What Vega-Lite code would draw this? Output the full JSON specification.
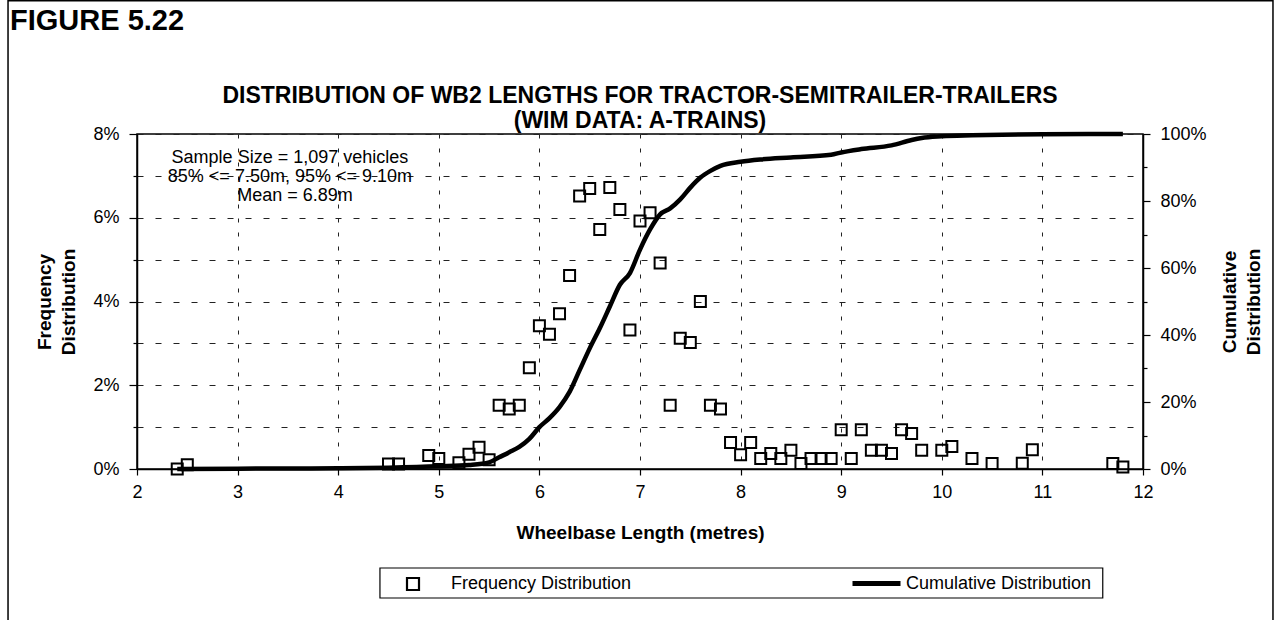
{
  "$schema": "https://vega.github.io/schema/vega-lite/v6.json",
  "autosize": {"type": "none"},
  "width": 1006,
  "height": 335,
  "padding": {"left": 137, "top": 134, "right": 132, "bottom": 151},
  "background": "white",
  "datasets": {
    "freq": [
      {"x": 2.4, "freq": 0.0}, {"x": 2.5, "freq": 0.1}, {"x": 4.5, "freq": 0.12}, {"x": 4.6, "freq": 0.12},
      {"x": 4.9, "freq": 0.32}, {"x": 5.0, "freq": 0.25}, {"x": 5.2, "freq": 0.15}, {"x": 5.3, "freq": 0.35},
      {"x": 5.4, "freq": 0.52}, {"x": 5.5, "freq": 0.22}, {"x": 5.6, "freq": 1.52}, {"x": 5.7, "freq": 1.43},
      {"x": 5.8, "freq": 1.52}, {"x": 5.9, "freq": 2.42}, {"x": 6.0, "freq": 3.42}, {"x": 6.1, "freq": 3.22},
      {"x": 6.2, "freq": 3.71}, {"x": 6.3, "freq": 4.62}, {"x": 6.4, "freq": 6.52}, {"x": 6.5, "freq": 6.7},
      {"x": 6.6, "freq": 5.72}, {"x": 6.7, "freq": 6.72}, {"x": 6.8, "freq": 6.2}, {"x": 6.9, "freq": 3.32},
      {"x": 7.0, "freq": 5.92}, {"x": 7.1, "freq": 6.12}, {"x": 7.2, "freq": 4.92}, {"x": 7.3, "freq": 1.52},
      {"x": 7.4, "freq": 3.12}, {"x": 7.5, "freq": 3.02}, {"x": 7.6, "freq": 4.0}, {"x": 7.7, "freq": 1.52},
      {"x": 7.8, "freq": 1.43}, {"x": 7.9, "freq": 0.63}, {"x": 8.0, "freq": 0.34}, {"x": 8.1, "freq": 0.63},
      {"x": 8.2, "freq": 0.25}, {"x": 8.3, "freq": 0.37}, {"x": 8.4, "freq": 0.25}, {"x": 8.5, "freq": 0.45},
      {"x": 8.6, "freq": 0.13}, {"x": 8.7, "freq": 0.25}, {"x": 8.8, "freq": 0.25}, {"x": 8.9, "freq": 0.25},
      {"x": 9.0, "freq": 0.94}, {"x": 9.1, "freq": 0.25}, {"x": 9.2, "freq": 0.94}, {"x": 9.3, "freq": 0.45},
      {"x": 9.4, "freq": 0.45}, {"x": 9.5, "freq": 0.37}, {"x": 9.6, "freq": 0.94}, {"x": 9.7, "freq": 0.85},
      {"x": 9.8, "freq": 0.45}, {"x": 10.0, "freq": 0.45}, {"x": 10.1, "freq": 0.54}, {"x": 10.3, "freq": 0.25},
      {"x": 10.5, "freq": 0.13}, {"x": 10.8, "freq": 0.14}, {"x": 10.9, "freq": 0.46}, {"x": 11.7, "freq": 0.13},
      {"x": 11.8, "freq": 0.05}
    ],
    "cum": [
      {"x": 2.4, "cum": 0.0}, {"x": 3.0, "cum": 0.1}, {"x": 4.0, "cum": 0.2}, {"x": 4.5, "cum": 0.4},
      {"x": 5.0, "cum": 0.8}, {"x": 5.3, "cum": 1.2}, {"x": 5.5, "cum": 2.0}, {"x": 5.6, "cum": 3.5},
      {"x": 5.7, "cum": 5.0}, {"x": 5.8, "cum": 6.6}, {"x": 5.9, "cum": 9.0}, {"x": 6.0, "cum": 12.5},
      {"x": 6.1, "cum": 15.2}, {"x": 6.2, "cum": 18.5}, {"x": 6.3, "cum": 23.0}, {"x": 6.4, "cum": 29.5},
      {"x": 6.5, "cum": 36.0}, {"x": 6.6, "cum": 42.0}, {"x": 6.7, "cum": 48.5}, {"x": 6.8, "cum": 55.0},
      {"x": 6.9, "cum": 58.5}, {"x": 7.0, "cum": 65.5}, {"x": 7.1, "cum": 71.5}, {"x": 7.2, "cum": 76.0},
      {"x": 7.3, "cum": 77.8}, {"x": 7.4, "cum": 80.5}, {"x": 7.5, "cum": 84.0}, {"x": 7.6, "cum": 87.0},
      {"x": 7.7, "cum": 89.0}, {"x": 7.8, "cum": 90.5}, {"x": 8.0, "cum": 91.7}, {"x": 8.2, "cum": 92.4},
      {"x": 8.5, "cum": 93.0}, {"x": 8.9, "cum": 93.8}, {"x": 9.0, "cum": 94.5}, {"x": 9.2, "cum": 95.5},
      {"x": 9.5, "cum": 96.6}, {"x": 9.7, "cum": 98.2}, {"x": 9.8, "cum": 98.8}, {"x": 10.0, "cum": 99.3},
      {"x": 10.3, "cum": 99.6}, {"x": 10.6, "cum": 99.8}, {"x": 11.0, "cum": 99.9}, {"x": 11.8, "cum": 100.0}
    ]
  },
  "config": {
    "font": "Liberation Sans",
    "view": {"stroke": "black", "strokeWidth": 1.5},
    "axis": {
      "labelFont": "Liberation Sans", "labelFontSize": 18, "labelColor": "black",
      "titleFont": "Liberation Sans", "titleFontSize": 19, "titleFontWeight": "bold", "titleColor": "black",
      "domainColor": "black", "domainWidth": 1.5, "tickColor": "black", "tickWidth": 1.2
    },
    "legend": {
      "labelFont": "Liberation Sans", "labelFontSize": 18, "labelColor": "black", "labelLimit": 400
    }
  },
  "resolve": {"scale": {"y": "independent", "color": "independent"}},
  "layer": [
    {
      "layer": [
        {
          "data": {"name": "freq"},
          "mark": {"type": "point", "shape": "square", "filled": false, "size": 121, "strokeWidth": 2, "opacity": 1},
          "encoding": {
            "x": {
              "field": "x", "type": "quantitative",
              "scale": {"domain": [2, 12], "nice": false, "zero": false},
              "axis": {
                "values": [2, 3, 4, 5, 6, 7, 8, 9, 10, 11, 12], "format": "d", "labelFlush": false,
                "title": "Wheelbase Length (metres)", "titlePadding": 22,
                "tickSize": 6, "labelPadding": 8,
                "grid": true, "gridColor": "#222", "gridDash": [4, 10], "gridWidth": 1
              }
            },
            "y": {
              "field": "freq", "type": "quantitative",
              "scale": {"domain": [0, 8], "nice": false},
              "axis": {
                "orient": "left",
                "values": [0, 1, 2, 3, 4, 5, 6, 7, 8],
                "labelExpr": "datum.value % 2 == 0 ? datum.value + '%' : ''",
                "tickSize": {"condition": {"test": "datum.value % 2 != 0", "value": 4}, "value": 8},
                "labelPadding": 10,
                "title": ["Frequency", "Distribution"], "titleLineHeight": 24, "titlePadding": 14,
                "grid": true, "gridColor": "#222", "gridDash": [6, 12], "gridWidth": 1
              }
            },
            "color": {
              "datum": "Frequency Distribution",
              "scale": {"range": ["black"]},
              "legend": {
                "title": null, "orient": "none", "legendX": 263, "legendY": 437,
                "padding": 4, "symbolType": "square", "symbolSize": 144, "symbolStrokeWidth": 2.2,
                "symbolFillColor": "transparent", "symbolStrokeColor": "black", "labelOffset": 29
              }
            }
          }
        },
        {
          "data": {"values": [{}]},
          "mark": {"type": "text", "font": "Liberation Sans", "fontSize": 23, "fontWeight": "bold", "align": "center", "baseline": "middle", "color": "black"},
          "encoding": {
            "x": {"datum": 7.0, "type": "quantitative"},
            "y": {"datum": 8.91, "type": "quantitative"},
            "text": {"value": "DISTRIBUTION OF WB2 LENGTHS FOR TRACTOR-SEMITRAILER-TRAILERS"}
          }
        },
        {
          "data": {"values": [{}]},
          "mark": {"type": "text", "font": "Liberation Sans", "fontSize": 23, "fontWeight": "bold", "align": "center", "baseline": "middle", "color": "black"},
          "encoding": {
            "x": {"datum": 7.0, "type": "quantitative"},
            "y": {"datum": 8.32, "type": "quantitative"},
            "text": {"value": "(WIM DATA: A-TRAINS)"}
          }
        },
        {
          "data": {"values": [{}]},
          "mark": {"type": "text", "font": "Liberation Sans", "fontSize": 18, "align": "center", "baseline": "middle", "color": "black"},
          "encoding": {
            "x": {"datum": 3.52, "type": "quantitative"},
            "y": {"datum": 7.43, "type": "quantitative"},
            "text": {"value": "Sample Size = 1,097 vehicles"}
          }
        },
        {
          "data": {"values": [{}]},
          "mark": {"type": "text", "font": "Liberation Sans", "fontSize": 18, "align": "center", "baseline": "middle", "color": "black"},
          "encoding": {
            "x": {"datum": 3.52, "type": "quantitative"},
            "y": {"datum": 6.97, "type": "quantitative"},
            "text": {"value": "85% <= 7.50m, 95% <= 9.10m"}
          }
        },
        {
          "data": {"values": [{}]},
          "mark": {"type": "text", "font": "Liberation Sans", "fontSize": 18, "align": "center", "baseline": "middle", "color": "black"},
          "encoding": {
            "x": {"datum": 3.57, "type": "quantitative"},
            "y": {"datum": 6.52, "type": "quantitative"},
            "text": {"value": "Mean = 6.89m"}
          }
        },
        {
          "data": {"values": [{}]},
          "mark": {"type": "text", "font": "Liberation Sans", "fontSize": 29, "fontWeight": "bold", "align": "left", "baseline": "middle", "color": "black"},
          "encoding": {
            "x": {"datum": 0.738, "type": "quantitative"},
            "y": {"datum": 10.7, "type": "quantitative"},
            "text": {"value": "FIGURE 5.22"}
          }
        },
        {
          "data": {"values": [{}]},
          "mark": {"type": "rect", "fill": null, "fillOpacity": 0, "stroke": "black", "strokeWidth": 1.5},
          "encoding": {
            "x": {"datum": 0.718, "type": "quantitative"},
            "x2": {"datum": 13.292},
            "y": {"datum": 11.18, "type": "quantitative"},
            "y2": {"datum": -3.84}
          }
        },
        {
          "data": {"values": [{}]},
          "mark": {"type": "rect", "fill": null, "fillOpacity": 0, "stroke": "black", "strokeWidth": 1.2},
          "encoding": {
            "x": {"datum": 4.415, "type": "quantitative"},
            "x2": {"datum": 11.6},
            "y": {"datum": -2.364, "type": "quantitative"},
            "y2": {"datum": -3.081}
          }
        }
      ]
    },
    {
      "data": {"name": "cum"},
      "mark": {"type": "line", "strokeWidth": 4.5, "interpolate": "monotone", "color": "black"},
      "encoding": {
        "x": {"field": "x", "type": "quantitative"},
        "y": {
          "field": "cum", "type": "quantitative",
          "scale": {"domain": [0, 100], "nice": false},
          "axis": {
            "orient": "right",
            "values": [0, 10, 20, 30, 40, 50, 60, 70, 80, 90, 100],
            "labelExpr": "datum.value % 20 == 0 ? datum.value + '%' : ''",
            "tickSize": {"condition": {"test": "datum.value % 20 != 0", "value": 4}, "value": 7},
            "labelPadding": 10,
            "title": ["Cumulative", "Distribution"], "titleAngle": 270, "titleLineHeight": 24, "titlePadding": 9,
            "grid": false
          }
        },
        "color": {
          "datum": "Cumulative Distribution",
          "scale": {"range": ["black"]},
          "legend": {
            "title": null, "orient": "none", "legendX": 709, "legendY": 419,
            "padding": 4, "symbolType": "stroke", "symbolSize": 2304, "symbolStrokeWidth": 5,
            "symbolStrokeColor": "black", "labelOffset": 3
          }
        }
      }
    }
  ]
}
